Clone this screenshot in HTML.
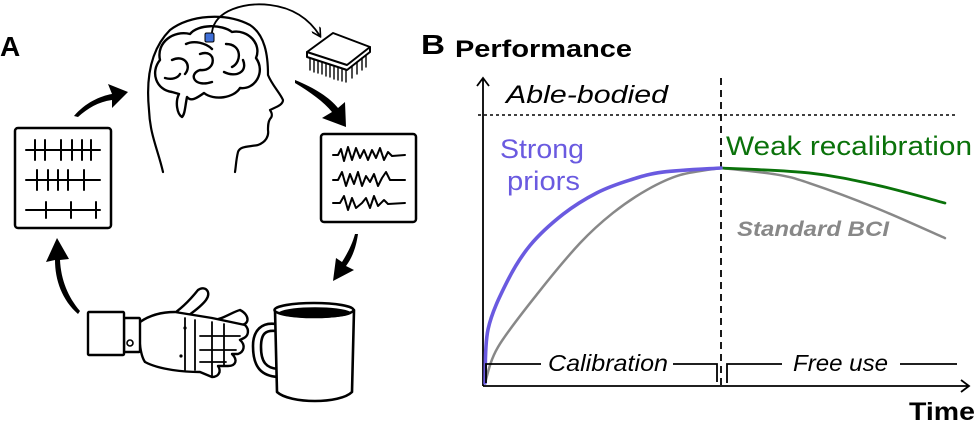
<!DOCTYPE html>
<html><head><meta charset="utf-8"><style>
html,body{margin:0;padding:0;background:#fff}
svg{display:block;font-family:"Liberation Sans",sans-serif}
</style></head><body>
<svg width="976" height="428" viewBox="0 0 976 428">
<defs>
<marker id="ah" markerWidth="10" markerHeight="10" refX="8" refY="5" orient="auto" markerUnits="userSpaceOnUse"><path d="M0,0 L9,5 L0,10" fill="none" stroke="#000" stroke-width="1.6"/></marker>
</defs>
<!-- Panel A -->
<g fill="none" stroke="#000" stroke-linecap="round" stroke-linejoin="round">
<text x="0" y="56" font-size="28" font-weight="bold" fill="#000" stroke="none">A</text>
<path stroke-width="2.2" d="M163,172 C158,150 150,135 149,110 C146,80 150,50 170,30 C190,15 225,12 250,25 C265,35 268,55 268,75 C272,85 280,93 283,100 C283,105 276,107 270,110 C272,113 273,116 270,119 C268,122 268,126 268,130 C269,136 266,142 258,145 C248,147 240,146 238,152 C236,160 236,166 235,172"/>
<path stroke-width="2.4" d="M172,92 C156,90 150,72 160,60 C156,42 174,30 190,34 C198,24 222,24 232,32 C248,29 262,44 256,58 C266,72 255,90 240,88 C234,98 214,101 204,93 C197,98 191,102 187,97 C185,107 185,114 182,117 C177,114 175,102 179,94 Z M172,60 C185,54 192,66 185,74 M200,54 C217,48 217,72 200,70 C188,74 194,88 212,82 M226,44 C242,44 242,62 232,67 M224,72 C236,78 248,72 243,60 M186,44 C194,40 206,43 212,49 M165,78 C172,80 178,78 180,74"/>
<rect x="205" y="33" width="9" height="9" rx="1.5" fill="#3f6fd8" stroke="#000" stroke-width="1"/>
<path stroke-width="1.8" marker-end="url(#ah)" d="M212,32 C215,10 245,2 270,5 C295,8 310,20 320,36"/>
<g stroke-width="2">
<path d="M307,52 L333,33 L370,47 L347,65 Z" fill="#fff"/>
<path d="M307,52 L307,57 L347,70 L370,52 L370,47"/>
<path stroke-width="1.4" d="M310,58 v12 M314,60 v12 M318,61 v12 M322,62 v12 M326,64 v12 M330,65 v12 M334,67 v12 M338,68 v12 M342,69 v12 M346,70 v12 M352,66 v12 M357,62 v12 M362,58 v12 M366,55 v12"/>
</g>
<g fill="#000" stroke="none">
<path d="M74,116 C85,103 100,96 112,94 L108,84 L128,92 L112,108 L112,100 C98,102 88,108 78,117 Z"/>
<path d="M295,80 C315,88 330,98 338,108 L345,102 L346,127 L322,118 L332,112 C324,102 310,92 295,83 Z"/>
<path d="M358,234 C356,248 352,258 346,266 L354,270 L333,281 L336,258 L342,262 C347,254 352,245 355,234 Z"/>
<path d="M78,314 C62,300 55,280 55,260 L46,262 L57,238 L69,259 L60,260 C61,280 68,297 80,311 Z"/>
</g>
<g stroke-width="2.5">
<rect x="15" y="128" width="96" height="100" rx="3"/>
<path stroke-width="2" d="M26,150 H100 M26,180 H100 M26,210 H100 M35,140 v20 M45,140 v20 M61,140 v20 M72,140 v20 M82,140 v20 M91,140 v20 M37,170 v20 M48,170 v20 M58,170 v20 M68,170 v20 M84,170 v20 M46,202 v16 M71,202 v16 M96,202 v16"/>
</g>
<g stroke-width="2.5">
<rect x="321" y="134" width="95" height="88" rx="3"/>
<path stroke-width="2" d="M333,155 L338,155 L341,149 L344,161 L348,147 L352,160 L356,148 L360,158 L364,150 L368,160 L372,150 L376,158 L380,148 L384,160 L388,152 L392,156 L405,155 M333,180 L338,180 L342,172 L346,186 L350,174 L354,184 L358,172 L362,186 L366,176 L370,182 L374,174 L378,186 L382,178 L386,172 L390,180 L405,180 M333,203 L340,203 L344,196 L348,210 L352,198 L356,208 L362,203 L366,198 L370,208 L374,196 L378,206 L384,200 L388,204 L405,203"/>
</g>
<g stroke-width="2.4" fill="#fff">
<path d="M212,320 C222,320 232,312 240,310 C250,315 250,325 240,325 L232,327"/>
<path d="M170,316 C180,310 190,300 198,290 C205,285 212,292 206,300 C200,308 190,314 185,318"/>
<path d="M140,322 C150,315 162,312 175,312 L212,318 L245,325 C250,330 248,336 244,338 L240,340 C246,345 244,352 238,354 L232,354 C238,360 236,366 228,366 L218,366 C222,372 218,377 212,377 L200,372 C185,372 160,370 145,362 C140,355 138,335 140,322 Z"/>
<path stroke-width="1.8" d="M185,318 L185,370 M195,320 V370 M200,336 H240 M200,350 H236 M200,362 H226 M212,322 V376 M224,324 V366"/>
<rect x="124" y="318" width="16" height="34" rx="1"/>
<circle cx="130" cy="343" r="3" stroke-width="1.6"/>
<rect x="88" y="312" width="36" height="43" rx="1"/>
<circle cx="185" cy="328" r="1.6" fill="#000" stroke="none"/>
<circle cx="181" cy="356" r="1.6" fill="#000" stroke="none"/>
</g>
<g stroke-width="2.6" fill="#fff">
<path d="M276,324 C262,322 253,330 253,346 C253,368 262,376 278,377 L278,369 C266,368 261,362 261,347 C261,333 266,330 276,331 Z"/>
<path d="M275,310 L277,392 C290,404 340,404 352,392 L354,310"/>
<ellipse cx="314" cy="310" rx="39.5" ry="7"/>
<path d="M280,313 C290,307 340,307 350,313 C340,318 290,318 280,313 Z" fill="#000"/>
</g>
</g>
<!-- Panel B -->
<g>
<text x="421" y="54" font-size="28" font-weight="bold" textLength="24" lengthAdjust="spacingAndGlyphs">B</text>
<text x="455" y="57" font-size="24" font-weight="bold" textLength="177" lengthAdjust="spacingAndGlyphs">Performance</text>
<text x="909" y="420" font-size="25" font-weight="bold" textLength="66" lengthAdjust="spacingAndGlyphs">Time</text>
<path d="M483,386 V79 M477,86 L483,78 L489,86" stroke="#000" stroke-width="1.8" fill="none"/>
<path d="M483,386 H969 M961,380 L969,386 L961,392" stroke="#000" stroke-width="1.8" fill="none"/>
<line x1="478" y1="115" x2="956" y2="115" stroke="#000" stroke-width="1.6" stroke-dasharray="3,3"/>
<text x="506" y="103" font-size="25" font-style="italic" textLength="162" lengthAdjust="spacingAndGlyphs">Able-bodied</text>
<line x1="721" y1="78" x2="721" y2="388" stroke="#000" stroke-width="1.8" stroke-dasharray="7,5"/>
<g id="curves"></g>
<text x="500" y="158" font-size="27" fill="#6a5ae0" textLength="84" lengthAdjust="spacingAndGlyphs">Strong</text>
<text x="507" y="190" font-size="27" fill="#6a5ae0" textLength="73" lengthAdjust="spacingAndGlyphs">priors</text>
<text x="726" y="155" font-size="27" fill="#0a720a" textLength="246" lengthAdjust="spacingAndGlyphs">Weak recalibration</text>
<text x="737" y="236" font-size="21" font-weight="bold" font-style="italic" fill="#888" textLength="152" lengthAdjust="spacingAndGlyphs">Standard BCI</text>
<path d="M486,383 V364 H541 M673,364 H717 V382 M727,383 V364 H782 M900,364 H957" stroke="#000" stroke-width="1.8" fill="none"/>
<text x="548" y="371" font-size="23" font-style="italic" textLength="120" lengthAdjust="spacingAndGlyphs">Calibration</text>
<text x="793" y="371" font-size="23" font-style="italic" textLength="95" lengthAdjust="spacingAndGlyphs">Free use</text>
</g>
</svg>
<script>
// time in units (1 = end of calibration), performance (1 = plateau)
const strongT = [0, 0.013, 0.093, 0.191, 0.331, 0.475, 0.614, 0.754, 1];
const strongV = [0, 0.25, 0.47, 0.64, 0.785, 0.885, 0.944, 0.981, 1];
const stdCalT = [0, 0.055, 0.225, 0.403, 0.542, 0.686, 0.826, 1];
const stdCalV = [0, 0.167, 0.419, 0.651, 0.791, 0.898, 0.967, 1];
const weakT = [1, 1.373, 1.657, 1.949];
const weakV = [1, 0.977, 0.921, 0.837];
const stdUseT = [1, 1.233, 1.373, 1.657, 1.949];
const stdUseV = [1, 0.97, 0.93, 0.814, 0.674];
function xs(t){return 485 + t*236;}
function ys(v){return 383 - v*215;}
function pathFrom(T,V){
  const p=T.map((t,i)=>[xs(t),ys(V[i])]);
  let d='M'+p[0][0]+','+p[0][1];
  for(let i=0;i<p.length-1;i++){
    const p0=p[i-1]||p[i],p1=p[i],p2=p[i+1],p3=p[i+2]||p2;
    const c1=[p1[0]+(p2[0]-p0[0])/6,p1[1]+(p2[1]-p0[1])/6];
    const c2=[p2[0]-(p3[0]-p1[0])/6,p2[1]-(p3[1]-p1[1])/6];
    d+=' C'+c1[0]+','+c1[1]+' '+c2[0]+','+c2[1]+' '+p2[0]+','+p2[1];
  }
  return d;
}
const g=document.getElementById('curves');
function add(T,V,color,w,name){
  const el=document.createElementNS('http://www.w3.org/2000/svg','path');
  el.setAttribute('d',pathFrom(T,V));
  el.setAttribute('fill','none');
  el.setAttribute('stroke',color);
  el.setAttribute('stroke-width',w);
  el.setAttribute('stroke-linecap','round');
  
  
  g.appendChild(el);
}
add(stdCalT,stdCalV,'#888',2.5,'standard-bci-calibration-curve');
add(stdUseT,stdUseV,'#888',2.5,'standard-bci-free-use-curve');
add(weakT,weakV,'#0a720a',2.8,'weak-recalibration-curve');
add(strongT,strongV,'#6a5ae0',3.6,'strong-priors-curve');
</script>
</body></html>
